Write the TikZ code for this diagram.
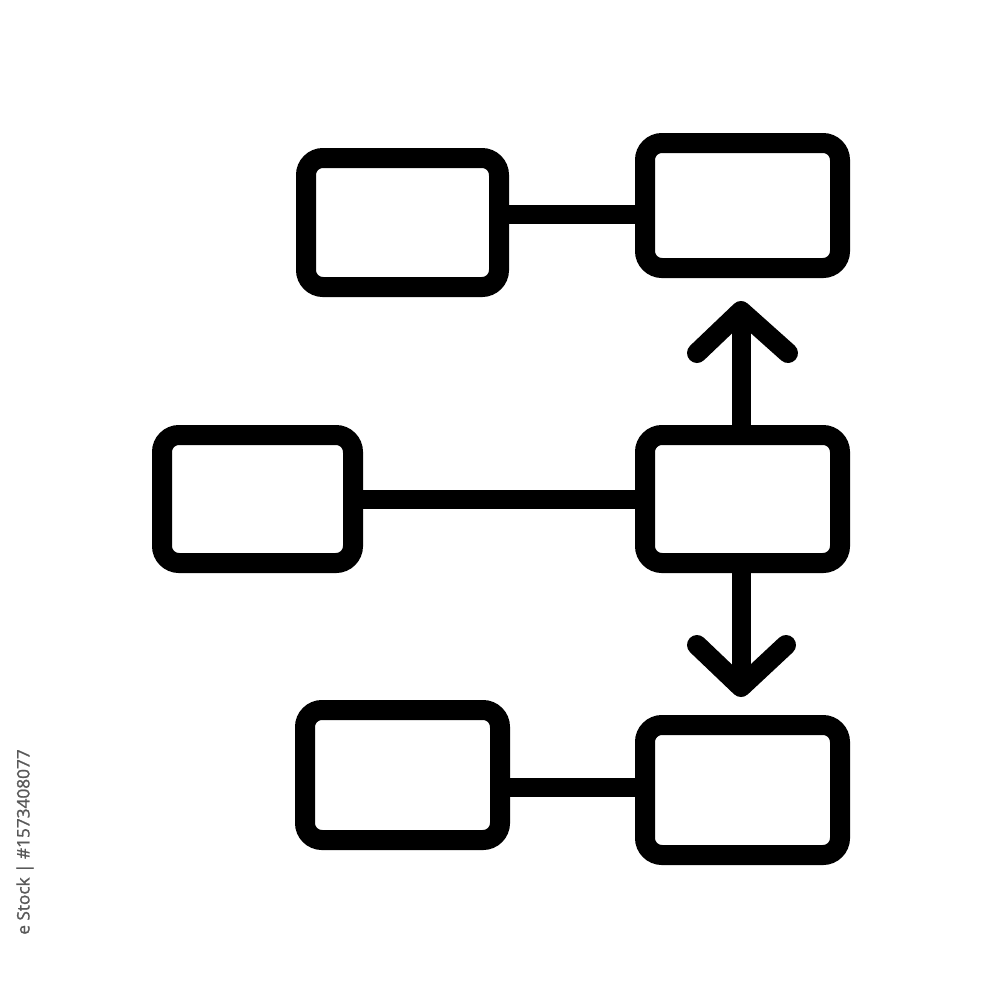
\documentclass[tikz,border=0pt]{standalone}
\usepackage{fontspec}
\newfontfamily\wmfont[FakeBold=1.2]{Open Sans}
\begin{document}
\begin{tikzpicture}[x=0.1mm,y=-0.1mm,
  box/.style={draw=black, line width=0.2cm, rounded corners=0.17cm, inner sep=0pt, fill=white},
  link/.style={draw=black, line width=0.19cm},
  arr/.style={draw=black, line width=0.2cm, line cap=round, line join=round}]
\fill[white] (0,0) rectangle (1000,1000);
\useasboundingbox (0,0) rectangle (1000,1000);
% boxes
\node[box, minimum width=1.93cm, minimum height=1.29cm] (tl) at (402.5,222.5) {};
\node[box, minimum width=1.95cm, minimum height=1.25cm] (tr) at (742.5,205.5) {};
\node[box, minimum width=1.91cm, minimum height=1.28cm] (ml) at (257.5,499) {};
\node[box, minimum width=1.95cm, minimum height=1.28cm] (mr) at (742.5,499) {};
\node[box, minimum width=1.95cm, minimum height=1.30cm] (bl) at (402.5,775) {};
\node[box, minimum width=1.95cm, minimum height=1.30cm] (br) at (742.5,790) {};
% links
\coordinate (ty) at (0,214);
\coordinate (by) at (0,787);
\draw[link] (tl.east |- ty) -- (tr.west |- ty);
\draw[link] (ml.east) -- (mr.west);
\draw[link] (bl.east |- by) -- (br.west |- by);
% arrows
\coordinate (tipU) at (741,311);
\coordinate (tipD) at (741,687);
\draw[link] (mr.north -| tipU) -- (tipU);
\draw[arr] (697,353) -- (tipU) -- (788,353);
\draw[link] (mr.south -| tipD) -- (tipD);
\draw[arr] (697,645) -- (tipD) -- (786,645);
% watermark id
\node[rotate=90, text=black!65, font=\wmfont\fontsize{4.9}{5}\selectfont, inner sep=0pt] (wm) at (25,842) {e Stock | \#1573408077};
\end{tikzpicture}
\end{document}
